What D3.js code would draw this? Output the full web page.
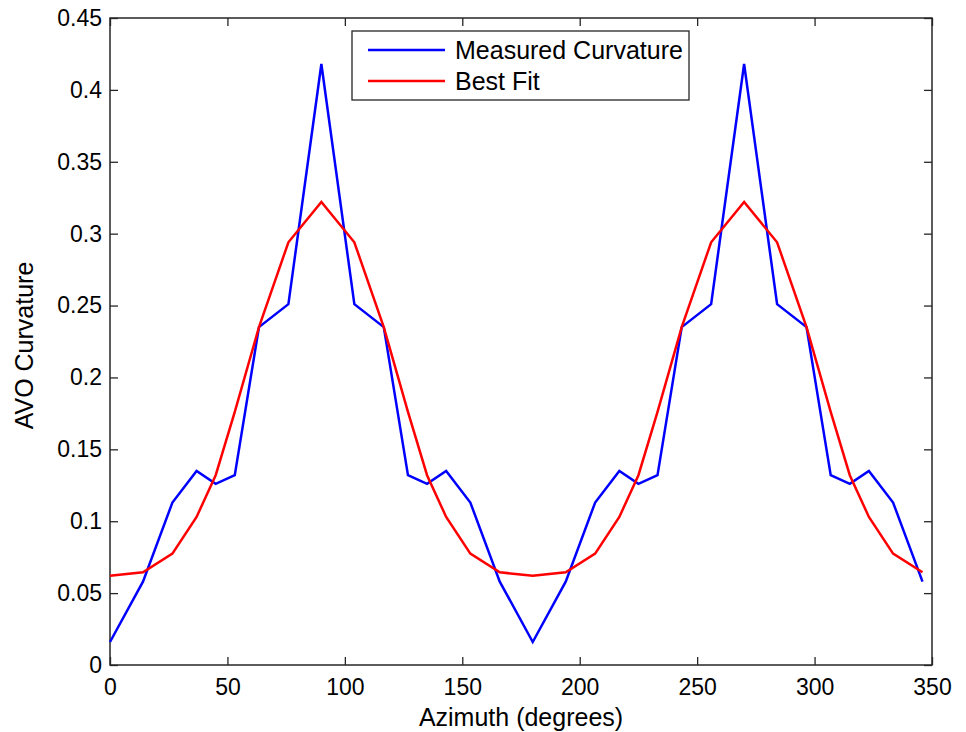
<!DOCTYPE html>
<html>
<head>
<meta charset="utf-8">
<script src="https://cdn.jsdelivr.net/npm/d3@7"></script>
<style>
  body { margin: 0; background: #fff; }
  text { font-family: "Liberation Sans", Arial, sans-serif; fill: #000; }
</style>
</head>
<body>
<div id="chart"></div>
<script>
// --- DATA ---
const azimuth = [0, 14.04, 26.57, 36.87, 45, 53.13, 63.43, 75.96, 90, 104.04, 116.57, 126.87, 135, 143.13, 153.43, 165.96,
                 180, 194.04, 206.57, 216.87, 225, 233.13, 243.43, 255.96, 270, 284.04, 296.57, 306.87, 315, 323.13, 333.43, 345.96];
const measured = [0.016, 0.058, 0.113, 0.135, 0.126, 0.132, 0.235, 0.251, 0.418, 0.251, 0.235, 0.132, 0.126, 0.135, 0.113, 0.058,
                  0.016, 0.058, 0.113, 0.135, 0.126, 0.132, 0.235, 0.251, 0.418, 0.251, 0.235, 0.132, 0.126, 0.135, 0.113, 0.058];
const bestFit = [0.062, 0.0645, 0.0775, 0.103, 0.132, 0.176, 0.235, 0.294, 0.322, 0.294, 0.235, 0.176, 0.132, 0.103, 0.0775, 0.0645,
                 0.062, 0.0645, 0.0775, 0.103, 0.132, 0.176, 0.235, 0.294, 0.322, 0.294, 0.235, 0.176, 0.132, 0.103, 0.0775, 0.0645];
const xTicks = [0, 50, 100, 150, 200, 250, 300, 350];
const yTicks = [0, 0.05, 0.1, 0.15, 0.2, 0.25, 0.3, 0.35, 0.4, 0.45];
const seriesNames = ["Measured Curvature", "Best Fit"];
const seriesColors = ["#0000ff", "#ff0000"];

// --- LAYOUT ---
const W = 966, H = 732;
const margin = { top: 18, right: 34, bottom: 67, left: 110 };
const width = W - margin.left - margin.right;
const height = H - margin.top - margin.bottom;

const svg = d3.select("#chart").append("svg")
    .attr("width", W).attr("height", H);
const g = svg.append("g").attr("transform", `translate(${margin.left},${margin.top})`);

const x = d3.scaleLinear().domain([0, 350]).range([0, width]);
const y = d3.scaleLinear().domain([0, 0.45]).range([height, 0]);

const fmtY = d => d === 0 ? "0" : String(+d.toFixed(2));

// axes (ticks point inward)
const axisColor = "#262626";
function styleAxis(sel) {
    sel.select(".domain").remove();
    sel.selectAll(".tick line").attr("stroke", axisColor).attr("stroke-width", 1.3);
    sel.selectAll(".tick text").style("font-size", "23px").attr("fill", "#000");
}
g.append("g").attr("transform", `translate(0,${height})`)
    .call(d3.axisBottom(x).tickValues(xTicks).tickSize(-8).tickPadding(14))
    .call(styleAxis);
g.append("g")
    .call(d3.axisTop(x).tickValues(xTicks).tickSize(-8).tickFormat(""))
    .call(styleAxis);
g.append("g")
    .call(d3.axisLeft(y).tickValues(yTicks).tickSize(-8).tickPadding(8).tickFormat(fmtY))
    .call(styleAxis);
g.append("g").attr("transform", `translate(${width},0)`)
    .call(d3.axisRight(y).tickValues(yTicks).tickSize(-8).tickFormat(""))
    .call(styleAxis);

g.append("rect")
    .attr("width", width).attr("height", height)
    .attr("fill", "none").attr("stroke", axisColor).attr("stroke-width", 1.5);

// lines
const line = d3.line().x(d => x(d[0])).y(d => y(d[1]));
[measured, bestFit].forEach((vals, i) => {
    g.append("path")
        .datum(azimuth.map((a, j) => [a, vals[j]]))
        .attr("fill", "none")
        .attr("stroke", seriesColors[i])
        .attr("stroke-width", 2.5)
        .attr("stroke-linejoin", "miter")
        .attr("d", line);
});

// axis labels
svg.append("text")
    .attr("x", margin.left + width / 2).attr("y", 726)
    .attr("text-anchor", "middle").style("font-size", "25px")
    .text("Azimuth (degrees)");
svg.append("text")
    .attr("transform", `translate(33,${margin.top + height / 2 + 4}) rotate(-90)`)
    .attr("text-anchor", "middle").style("font-size", "25px")
    .text("AVO Curvature");

// legend
const legend = svg.append("g").attr("transform", "translate(352,31)");
legend.append("rect")
    .attr("width", 337).attr("height", 69)
    .attr("fill", "#fff").attr("stroke", axisColor).attr("stroke-width", 1.3);
seriesNames.forEach((name, i) => {
    const ly = 19 + i * 31;
    legend.append("line")
        .attr("x1", 16).attr("x2", 93).attr("y1", ly).attr("y2", ly)
        .attr("stroke", seriesColors[i]).attr("stroke-width", 2.5);
    legend.append("text")
        .attr("x", 103).attr("y", ly).attr("dy", "0.35em")
        .style("font-size", "25px")
        .text(name);
});
</script>
</body>
</html>
